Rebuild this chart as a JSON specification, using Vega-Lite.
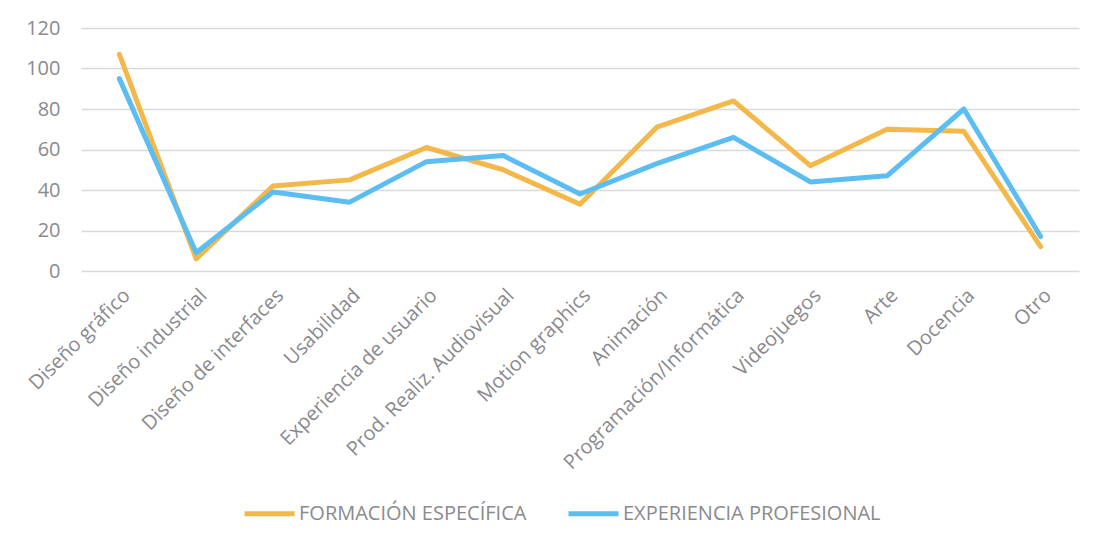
{
  "$schema": "https://vega.github.io/schema/vega-lite/v6.json",
  "width": 998,
  "height": 243,
  "autosize": "none",
  "padding": {"left": 81, "top": 28, "right": 22, "bottom": 262},
  "background": "white",
  "data": {
    "values": [
      {"cat": "Diseño gráfico", "serie": "FORMACIÓN ESPECÍFICA", "v": 107},
      {"cat": "Diseño industrial", "serie": "FORMACIÓN ESPECÍFICA", "v": 6},
      {"cat": "Diseño de interfaces", "serie": "FORMACIÓN ESPECÍFICA", "v": 42},
      {"cat": "Usabilidad", "serie": "FORMACIÓN ESPECÍFICA", "v": 45},
      {"cat": "Experiencia de usuario", "serie": "FORMACIÓN ESPECÍFICA", "v": 61},
      {"cat": "Prod. Realiz. Audiovisual", "serie": "FORMACIÓN ESPECÍFICA", "v": 50},
      {"cat": "Motion graphics", "serie": "FORMACIÓN ESPECÍFICA", "v": 33},
      {"cat": "Animación", "serie": "FORMACIÓN ESPECÍFICA", "v": 71},
      {"cat": "Programación/Informática", "serie": "FORMACIÓN ESPECÍFICA", "v": 84},
      {"cat": "Videojuegos", "serie": "FORMACIÓN ESPECÍFICA", "v": 52},
      {"cat": "Arte", "serie": "FORMACIÓN ESPECÍFICA", "v": 70},
      {"cat": "Docencia", "serie": "FORMACIÓN ESPECÍFICA", "v": 69},
      {"cat": "Otro", "serie": "FORMACIÓN ESPECÍFICA", "v": 12},
      {"cat": "Diseño gráfico", "serie": "EXPERIENCIA PROFESIONAL", "v": 95},
      {"cat": "Diseño industrial", "serie": "EXPERIENCIA PROFESIONAL", "v": 9},
      {"cat": "Diseño de interfaces", "serie": "EXPERIENCIA PROFESIONAL", "v": 39},
      {"cat": "Usabilidad", "serie": "EXPERIENCIA PROFESIONAL", "v": 34},
      {"cat": "Experiencia de usuario", "serie": "EXPERIENCIA PROFESIONAL", "v": 54},
      {"cat": "Prod. Realiz. Audiovisual", "serie": "EXPERIENCIA PROFESIONAL", "v": 57},
      {"cat": "Motion graphics", "serie": "EXPERIENCIA PROFESIONAL", "v": 38},
      {"cat": "Animación", "serie": "EXPERIENCIA PROFESIONAL", "v": 53},
      {"cat": "Programación/Informática", "serie": "EXPERIENCIA PROFESIONAL", "v": 66},
      {"cat": "Videojuegos", "serie": "EXPERIENCIA PROFESIONAL", "v": 44},
      {"cat": "Arte", "serie": "EXPERIENCIA PROFESIONAL", "v": 47},
      {"cat": "Docencia", "serie": "EXPERIENCIA PROFESIONAL", "v": 80},
      {"cat": "Otro", "serie": "EXPERIENCIA PROFESIONAL", "v": 17}
    ]
  },
  "mark": {"type": "line", "strokeWidth": 5, "strokeCap": "round", "strokeJoin": "round"},
  "encoding": {
    "x": {
      "field": "cat", "type": "nominal", "sort": null,
      "scale": {"type": "point", "padding": 0.5},
      "axis": {"title": null, "labelAngle": -45, "labelFontSize": 20, "labelColor": "#8a8a8e", "labelFont": "Open Sans", "labelLimit": 0, "ticks": false, "domain": false, "labelPadding": 14, "grid": false}
    },
    "y": {
      "field": "v", "type": "quantitative",
      "scale": {"domain": [0, 120], "nice": false},
      "axis": {"title": null, "values": [0, 20, 40, 60, 80, 100, 120], "labelFontSize": 20, "labelColor": "#8a8a8e", "labelFont": "Open Sans", "ticks": false, "domain": false, "labelPadding": 21, "gridColor": "#d9d9d9", "gridWidth": 1.5}
    },
    "color": {
      "field": "serie", "type": "nominal",
      "scale": {"domain": ["FORMACIÓN ESPECÍFICA", "EXPERIENCIA PROFESIONAL"], "range": ["#f4b84a", "#5bbdf2"]},
      "legend": {"title": null, "orient": "none", "direction": "horizontal", "legendX": 161, "legendY": 458, "symbolType": "stroke", "symbolSize": 2500, "symbolStrokeWidth": 5, "labelFontSize": 20, "labelColor": "#8a8a8e", "labelFont": "Open Sans", "labelLimit": 0, "columnPadding": 31, "labelOffset": 2}
    }
  },
  "config": {"view": {"stroke": null}}
}
